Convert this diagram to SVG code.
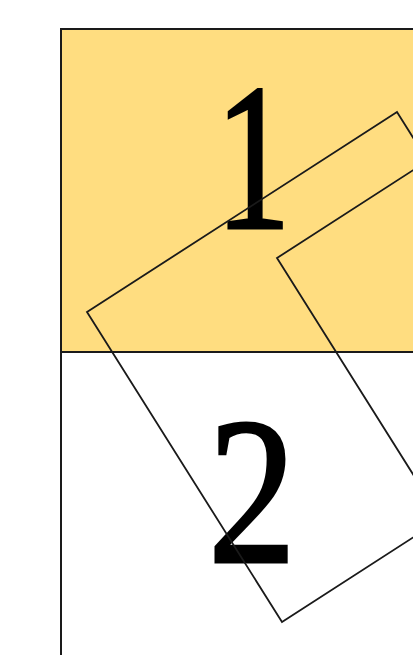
<svg xmlns="http://www.w3.org/2000/svg" width="413" height="655" viewBox="0 0 413 655">
<style>
.cell{stroke:#1a1a1a;stroke-width:2}
.sq{fill:none;stroke:#1a1a1a;stroke-width:1.8;stroke-linejoin:miter}
.num{font-family:"Liberation Serif","DejaVu Serif",serif;font-size:210px;fill:#000;stroke:#000;stroke-width:3;text-anchor:middle}
</style>
<rect width="413" height="655" fill="#fff"/>
<g id="cell1">
<rect class="cell" x="61" y="29" width="400" height="323" fill="#FFDD80"/>
<text class="num" transform="translate(253 228) scale(0.72 1)" x="0" y="0">1</text>
</g>
<g id="cell2">
<rect class="cell" x="61" y="352" width="400" height="400" fill="#fff"/>
<text class="num" transform="translate(252 562) scale(0.84 1)" x="0" y="0">2</text>
</g>
<g id="square1">
<polygon class="sq" points="87,312 397,112 592,422 282,622"/>
</g>
<g id="square2">
<polygon class="sq" points="277,258 587,58 782,368 472,568"/>
</g>
</svg>
